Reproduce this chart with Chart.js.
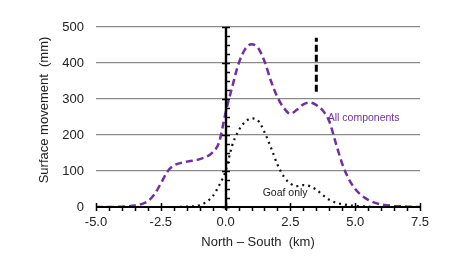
<!DOCTYPE html>
<html>
<head>
<meta charset="utf-8">
<script src="https://cdn.jsdelivr.net/npm/chart.js@4.4.1/dist/chart.umd.min.js"></script>
<style>
  html, body { margin: 0; padding: 0; background: #fff; }
  #wrap { width: 461px; height: 271px; }
</style>
</head>
<body>
<div id="wrap"><canvas id="chart" width="461" height="271"></canvas></div>
<script>
// Datos (distancia en km, movimiento en mm)
const xKm = [-5, -4.5, -4, -3.5, -3.25, -3, -2.75, -2.5, -2.25, -2, -1.5, -1, -0.5, -0.25,
             0, 0.25, 0.5, 0.75, 1, 1.25, 1.5, 1.75, 2, 2.25, 2.5, 2.75, 3, 3.25, 3.5, 3.75,
             4, 4.25, 4.5, 4.75, 5, 5.25, 5.5, 5.75, 6, 6.5, 7, 7.5];
const allComponents = [0, 0, 1, 4, 8, 16, 35, 65, 98, 115, 126, 133, 152, 180,
                       262, 332, 398, 438, 452, 442, 405, 350, 305, 275, 259, 270, 285, 290, 283, 268,
                       238, 178, 120, 78, 50, 32, 20, 12, 7, 3, 1, 0];
const goafOnly = [0, 0, 0, 0, 0, 0, 0, 0, 0, 0, 1, 5, 30, 60,
                  100, 170, 212, 236, 246, 240, 208, 165, 118, 84, 65, 58, 61, 58, 48, 33,
                  20, 12, 8, 5, 3, 2, 1, 0, 0, 0, 0, 0];
// Línea vertical discontinua
const markerX = [3.5, 3.5];
const markerY = [320, 470];

const xTicks = [-5, -2.5, 0, 2.5, 5, 7.5];
const yTicks = [0, 100, 200, 300, 400, 500];

// Etiquetas de las series (posición en coordenadas de datos)
const seriesLabels = [
    { text: 'All components', x: 3.94, y: 247, color: '#7030A0' },
    { text: 'Goaf only', x: 1.43, y: 39, color: '#222' }
];
const yTitle = 'Surface movement  (mm)';

const FONT = 'Liberation Sans, Arial, sans-serif';

function toPoints(xs, ys) {
    return xs.map((x, i) => ({ x: x, y: ys[i] }));
}

// Plugin: ejes en x=0 / y=0 con marcas, y etiquetas de las series
const axesAtZero = {
    id: 'axesAtZero',
    afterDatasetsDraw(chart) {
        const { ctx, scales } = chart;
        const xs = scales.x, ys = scales.y;
        const x0 = Math.round(xs.getPixelForValue(0));
        const y0 = Math.round(ys.getPixelForValue(0));
        const left = xs.getPixelForValue(-5), right = xs.getPixelForValue(7.5);
        const top = ys.getPixelForValue(500);
        ctx.save();
        ctx.strokeStyle = '#000';
        // eje vertical
        ctx.lineWidth = 2.4;
        ctx.beginPath();
        ctx.moveTo(x0, top);
        ctx.lineTo(x0, y0 + 3);
        ctx.stroke();
        // eje horizontal
        ctx.lineWidth = 2;
        ctx.beginPath();
        ctx.moveTo(left, y0);
        ctx.lineTo(right, y0);
        ctx.stroke();
        // marcas del eje y
        ctx.lineWidth = 1.5;
        for (let v = 0; v <= 500; v += 25) {
            const py = Math.round(ys.getPixelForValue(v)) + 0.5;
            const major = v % 100 === 0;
            ctx.beginPath();
            ctx.moveTo(major ? x0 - 4 : x0, py);
            ctx.lineTo(x0 + 4, py);
            ctx.stroke();
        }
        // marcas del eje x
        for (let k = -10; k <= 15; k++) {
            const v = k * 0.5;
            const px = Math.round(xs.getPixelForValue(v)) + 0.5;
            const major = k % 5 === 0;
            ctx.beginPath();
            ctx.moveTo(px, major ? y0 - 4 : y0);
            ctx.lineTo(px, y0 + 4);
            ctx.stroke();
        }
        // etiquetas
        ctx.font = '10.5px ' + FONT;
        ctx.textBaseline = 'middle';
        ctx.textAlign = 'left';
        seriesLabels.forEach(l => {
            ctx.fillStyle = l.color;
            ctx.fillText(l.text, xs.getPixelForValue(l.x), ys.getPixelForValue(l.y));
        });
        // título del eje y
        ctx.translate(44, 110);
        ctx.rotate(-Math.PI / 2);
        ctx.font = '13px ' + FONT;
        ctx.textAlign = 'center';
        ctx.fillStyle = '#222';
        ctx.fillText(yTitle, 0, 0);
        ctx.restore();
    }
};

const chart = new Chart(document.getElementById('chart').getContext('2d'), {
    type: 'line',
    data: {
        datasets: [
            {
                label: 'All components',
                data: toPoints(xKm, allComponents),
                borderColor: '#7030A0',
                borderWidth: 2.5,
                borderDash: [7, 4],
                pointRadius: 0,
                cubicInterpolationMode: 'monotone',
                fill: false
            },
            {
                label: 'Goaf only',
                data: toPoints(xKm, goafOnly),
                borderColor: '#111',
                borderWidth: 2.2,
                borderDash: [2, 4],
                pointRadius: 0,
                cubicInterpolationMode: 'monotone',
                fill: false
            },
            {
                label: 'marker',
                data: toPoints(markerX, markerY),
                borderColor: '#000',
                borderWidth: 3,
                borderDash: [7, 3],
                pointRadius: 0,
                fill: false
            }
        ]
    },
    options: {
        responsive: false,
        animation: false,
        events: [],
        layout: { padding: { top: 27, right: 41, left: 0, bottom: 0 } },
        plugins: {
            legend: { display: false },
            tooltip: { enabled: false }
        },
        scales: {
            x: {
                type: 'linear',
                min: -5,
                max: 7.5,
                afterBuildTicks: s => { s.ticks = xTicks.map(v => ({ value: v })); },
                afterFit: s => { s.height = 64; },
                grid: { display: false, drawTicks: false },
                border: { display: false },
                ticks: {
                    padding: 8,
                    color: '#222',
                    font: { family: FONT, size: 13 },
                    callback: v => v.toFixed(1)
                },
                title: {
                    display: true,
                    text: 'North – South  (km)',
                    color: '#222',
                    font: { family: FONT, size: 13 },
                    padding: { top: 0, bottom: 21 }
                }
            },
            y: {
                min: 0,
                max: 500,
                afterBuildTicks: s => { s.ticks = yTicks.map(v => ({ value: v })); },
                afterFit: s => { s.width = 96; },
                grid: {
                    drawTicks: false,
                    color: c => c.tick.value === 0 ? 'rgba(0,0,0,0)' : '#8a8a8a',
                    lineWidth: 1.2
                },
                border: { display: false },
                ticks: {
                    padding: 12,
                    color: '#222',
                    font: { family: FONT, size: 13 }
                },
                title: { display: false }
            }
        }
    },
    plugins: [axesAtZero]
});
</script>
</body>
</html>
